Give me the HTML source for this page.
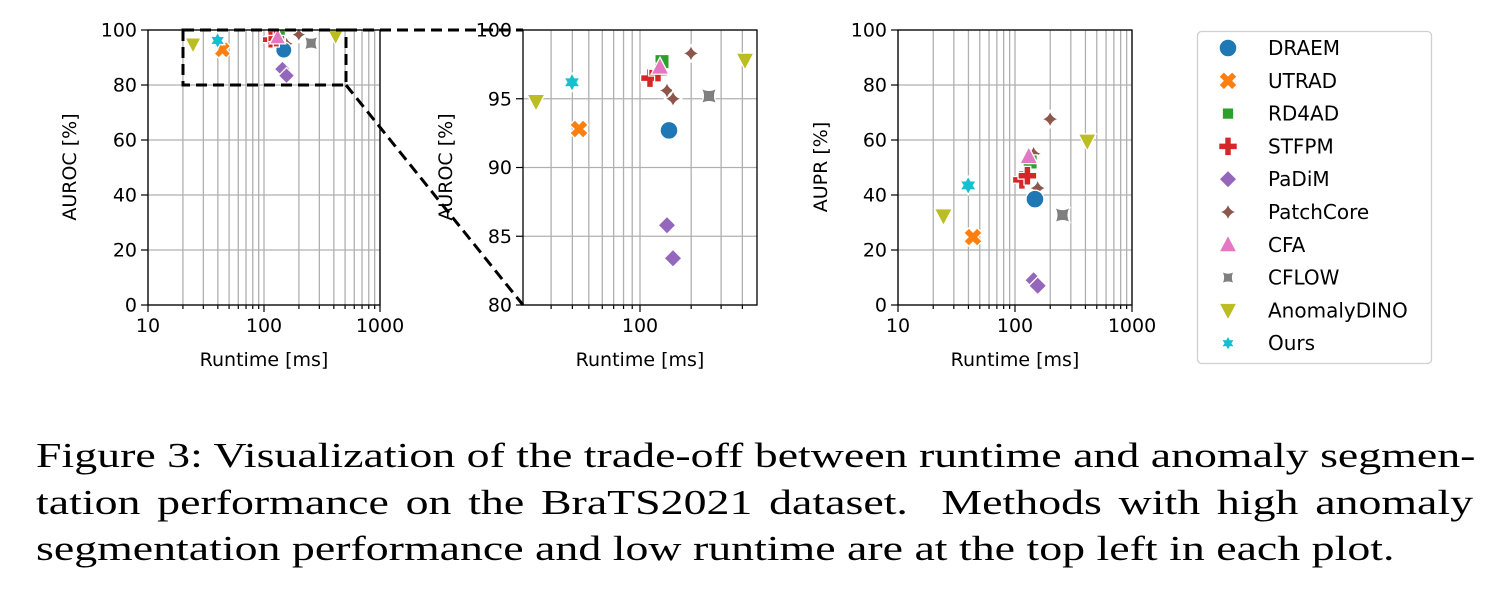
<!DOCTYPE html><html><head><meta charset="utf-8"><style>
body{margin:0;background:#fff;width:1492px;height:590px;overflow:hidden;position:relative}
svg{position:absolute;left:0;top:0}
.cap{position:absolute;left:36px;top:433px;width:1097px;transform:scaleX(1.31);transform-origin:0 0;font-family:"Liberation Serif",serif;font-size:35px;line-height:46.5px;color:#000}
.cap div{text-align:justify;text-align-last:justify;white-space:nowrap}
.cap div.l{text-align-last:left}
</style></head><body>
<svg id="s" width="1492" height="420" font-family="DejaVu Sans, Liberation Sans, sans-serif"></svg>
<div class="cap"><div>Figure 3: Visualization of the trade-off between runtime and anomaly segmen-</div><div>tation performance on the BraTS2021 dataset.&nbsp; Methods with high anomaly</div><div class="l">segmentation performance and low runtime are at the top left in each plot.</div></div>
<script>
const C={DRAEM:'#1f77b4',UTRAD:'#ff7f0e',RD4AD:'#2ca02c',STFPM:'#d62728',PaDiM:'#9467bd',PatchCore:'#8c564b',CFA:'#e377c2',CFLOW:'#7f7f7f',AnomalyDINO:'#bcbd22',Ours:'#17becf'};
function mk(t,x,y,s){s=s||1;const c=C[t],w='stroke="#fff" stroke-width="1.3"';let r=8.5*s;
switch(t){
case'DRAEM':return`<circle cx="${x}" cy="${y}" r="${r}" fill="${c}" ${w}/>`;
case'UTRAD':{let a=r*1.05,b=r*0.4;return`<path transform="translate(${x},${y}) rotate(45)" d="M${-b},${-a}H${b}V${-b}H${a}V${b}H${b}V${a}H${-b}V${b}H${-a}V${-b}H${-b}Z" fill="${c}" ${w}/>`}
case'RD4AD':return`<rect x="${x-r*0.8}" y="${y-r*0.8}" width="${r*1.6}" height="${r*1.6}" fill="${c}" ${w}/>`;
case'STFPM':{let a=r*1.05,b=r*0.38;return`<path transform="translate(${x},${y})" d="M${-b},${-a}H${b}V${-b}H${a}V${b}H${b}V${a}H${-b}V${b}H${-a}V${-b}H${-b}Z" fill="${c}" ${w}/>`}
case'PaDiM':return`<path transform="translate(${x},${y})" d="M0,${-r}L${r},0L0,${r}L${-r},0Z" fill="${c}" ${w}/>`;
case'PatchCore':{let a=r*1.05,b=r*0.4;return`<path transform="translate(${x},${y})" d="M0,${-a}Q${b*0.4},${-b*0.4} ${a},0Q${b*0.4},${b*0.4} 0,${a}Q${-b*0.4},${b*0.4} ${-a},0Q${-b*0.4},${-b*0.4} 0,${-a}Z" fill="${c}" ${w}/>`}
case'CFA':return`<path transform="translate(${x},${y})" d="M0,${-r*1.1}L${r},${r*0.8}L${-r},${r*0.8}Z" fill="${c}" ${w}/>`;
case'CFLOW':{let a=r*0.9;return`<path transform="translate(${x},${y})" d="M${-a},${-a}Q0,${-a*0.4} ${a},${-a}Q${a*0.4},0 ${a},${a}Q0,${a*0.4} ${-a},${a}Q${-a*0.4},0 ${-a},${-a}Z" fill="${c}" ${w}/>`}
case'AnomalyDINO':return`<path transform="translate(${x},${y})" d="M0,${r*1.1}L${r},${-r*0.8}L${-r},${-r*0.8}Z" fill="${c}" ${w}/>`;
case'Ours':{let p='';for(let i=0;i<12;i++){let ang=i*Math.PI/6,rr=i%2?r*0.58:r*1.05;p+=(i?'L':'M')+(rr*Math.sin(ang)).toFixed(2)+','+(-rr*Math.cos(ang)).toFixed(2)}return`<path transform="translate(${x},${y})" d="${p}Z" fill="${c}" ${w}/>`}
}}
const D=[['PaDiM',667,85.8,9],['PaDiM',673,83.4,7],['CFLOW',709,95.2,32.7],['PatchCore',667,95.6,55],['PatchCore',673,95.0,42.5],['PatchCore',691,98.3,67.6],['DRAEM',669,92.7,38.5],['RD4AD',662,97.7,52],['STFPM',650,96.5,45.5],['STFPM',658,96.9,47],['CFA',660,97.3,54],['UTRAD',579,92.8,24.7],['Ours',572,96.2,43.5],['AnomalyDINO',536,94.8,32.4],['AnomalyDINO',745,97.8,59.6]];
const lg=px=>2+(px-640)/170;
let o='';
function xg(x0,x1,base,lo,ppd){let g='';for(let d=lo;d<lo+3;d++)for(let m=1;m<10;m++){let x=base+(d+Math.log10(m)-lo)*ppd;if(x<x0-0.5||x>x1+0.5)continue;g+=`<line x1="${x}" y1="30" x2="${x}" y2="305" stroke="#b0b0b0" stroke-width="1.3"/><line x1="${x}" y1="305" x2="${x}" y2="${305+(m==1?7:4)}" stroke="#000" stroke-width="1.2"/>`}return g}
function ygrid(x0,x1,y0,y1,vals,lo,hi){let g='';vals.forEach(v=>{let y=y1-(v-lo)/(hi-lo)*(y1-y0);g+=`<line x1="${x0}" y1="${y}" x2="${x1}" y2="${y}" stroke="#b0b0b0" stroke-width="1.3"/><line x1="${x0-7}" y1="${y}" x2="${x0}" y2="${y}" stroke="#000" stroke-width="1.2"/><text x="${x0-11}" y="${y+6.5}" font-size="19" text-anchor="end">${v}</text>`});return g}
o+=xg(148,380,148,1,116)+ygrid(148,380,30,305,[0,20,40,60,80,100],0,100);
[[148,'10'],[264,'100'],[380,'1000']].forEach(a=>o+=`<text x="${a[0]}" y="332" font-size="19" text-anchor="middle">${a[1]}</text>`);
o+=`<text x="264" y="366" font-size="19" text-anchor="middle">Runtime [ms]</text><text transform="translate(76,167) rotate(-90)" font-size="19" text-anchor="middle">AUROC [%]</text>`;
D.forEach(d=>{o+=mk(d[0],148+116*(lg(d[1])-1),305-d[2]*2.75,0.95)});
o+=`<rect x="148" y="30" width="232" height="275" fill="none" stroke="#000" stroke-width="1.3"/>`;
o+=`<rect x="183" y="30" width="163" height="55" fill="none" stroke="#000" stroke-width="3" stroke-dasharray="11,6"/>`;
o+=xg(523,757,640,2,170);
let g2='';for(let m=2;m<10;m++){let x=640+(Math.log10(m)-1)*170;if(x<522)continue;g2+=`<line x1="${x}" y1="30" x2="${x}" y2="305" stroke="#b0b0b0" stroke-width="1.3"/><line x1="${x}" y1="305" x2="${x}" y2="309" stroke="#000" stroke-width="1.2"/>`}
o+=g2+ygrid(523,757,30,305,[80,85,90,95,100],80,100);
o+=`<text x="640" y="332" font-size="19" text-anchor="middle">100</text><text x="640" y="366" font-size="19" text-anchor="middle">Runtime [ms]</text><text transform="translate(452,167) rotate(-90)" font-size="19" text-anchor="middle">AUROC [%]</text>`;
D.forEach(d=>{o+=mk(d[0],d[1],305-(d[2]-80)*13.75,1.05)});
o+=`<rect x="523" y="30" width="234" height="275" fill="none" stroke="#000" stroke-width="1.3"/>`;
o+=`<line x1="346" y1="30" x2="523" y2="30" stroke="#000" stroke-width="3" stroke-dasharray="11,6"/><line x1="346" y1="85" x2="523" y2="305" stroke="#000" stroke-width="3" stroke-dasharray="11,6"/>`;
o+=xg(898,1132,898,1,117)+ygrid(898,1132,30,305,[0,20,40,60,80,100],0,100);
[[898,'10'],[1015,'100'],[1132,'1000']].forEach(a=>o+=`<text x="${a[0]}" y="332" font-size="19" text-anchor="middle">${a[1]}</text>`);
o+=`<text x="1015" y="366" font-size="19" text-anchor="middle">Runtime [ms]</text><text transform="translate(827,167) rotate(-90)" font-size="19" text-anchor="middle">AUPR [%]</text>`;
D.forEach(d=>{o+=mk(d[0],898+117*(lg(d[1])-1),305-d[3]*2.75,1.05)});
o+=`<rect x="898" y="30" width="234" height="275" fill="none" stroke="#000" stroke-width="1.3"/>`;
o+=`<rect x="1197.5" y="31.5" width="234" height="332" rx="4" fill="#fff" stroke="#d0d0d0" stroke-width="1.3"/>`;
Object.keys(C).forEach((k,i)=>{let y=48+i*32.8;o+=mk(k,1228,y,k=='RD4AD'||k=='CFLOW'||k=='Ours'?0.85:1.05)+`<text x="1268" y="${y+7}" font-size="20">${k}</text>`});
document.getElementById('s').innerHTML=o;
</script></body></html>
